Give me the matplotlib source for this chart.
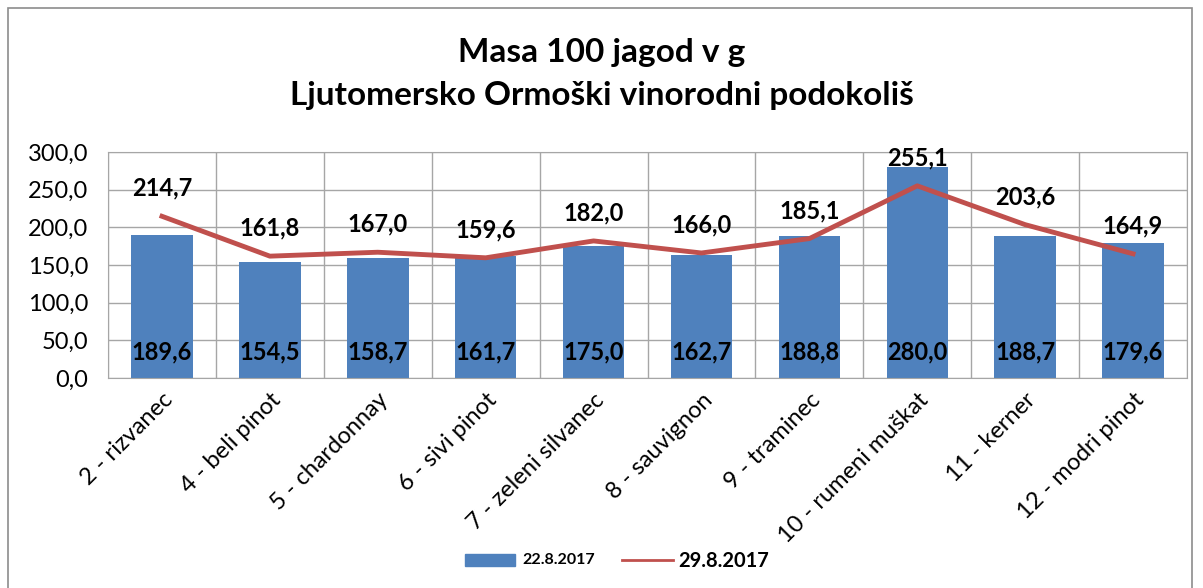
import numpy as np
import matplotlib.pyplot as plt
from matplotlib.patches import Rectangle

categories = ["2 - rizvanec", "4 - beli pinot", "5 - chardonnay", "6 - sivi pinot",
              "7 - zeleni silvanec", "8 - sauvignon", "9 - traminec",
              "10 - rumeni muškat", "11 - kerner", "12 - modri pinot"]
bars_22 = [189.6, 154.5, 158.7, 161.7, 175.0, 162.7, 188.8, 280.0, 188.7, 179.6]
line_29 = [214.7, 161.8, 167.0, 159.6, 182.0, 166.0, 185.1, 255.1, 203.6, 164.9]

plt.rcParams['font.family'] = ['Lato', 'DejaVu Sans']

def fmt(v):
    return f"{v:.1f}".replace(".", ",")

fig = plt.figure(figsize=(12.03, 5.88), dpi=100)
ax = fig.add_axes([0.0898, 0.357, 0.8969, 0.3845])

x = np.arange(len(categories))
ax.bar(x, bars_22, width=0.57, color="#4F81BD", zorder=2, label="22.8.2017")
ax.plot(x, line_29, color="#C0504D", lw=3.5, zorder=3, label="29.8.2017")

for xi, v in zip(x, bars_22):
    ax.text(xi, 35, fmt(v), ha="center", va="center", fontsize=17, fontweight="bold", zorder=4)
for xi, v in zip(x, line_29):
    ax.annotate(fmt(v), (xi, v), xytext=(0, 12), textcoords="offset points",
                ha="center", va="bottom", fontsize=17, fontweight="bold", zorder=4)

ax.set_xlim(-0.5, len(categories) - 0.5)
ax.set_ylim(0, 300)
ax.set_yticks(np.arange(0, 301, 50))
ax.set_yticklabels([fmt(v) for v in np.arange(0, 301, 50)], fontsize=17)
ax.set_xticks(x)
ax.set_xticklabels(categories, rotation=45, ha="right", rotation_mode="anchor", fontsize=17)
ax.tick_params(axis="y", length=0, pad=14)
ax.tick_params(axis="x", length=0, pad=8)
ax.set_xticks(np.arange(-0.5, len(categories)), minor=True)
ax.tick_params(axis="x", which="minor", length=0)
ax.grid(True, axis="y", color="#A6A6A6", lw=1, zorder=0)
ax.grid(True, axis="x", which="minor", color="#A6A6A6", lw=1, zorder=0)
for s in ax.spines.values():
    s.set_color("#A6A6A6")

fig.text(0.5, 0.91, "Masa 100 jagod v g", ha="center", va="center", fontsize=24, fontweight="bold")
fig.text(0.5, 0.838, "Ljutomersko Ormoški vinorodni podokoliš", ha="center", va="center",
         fontsize=24, fontweight="bold")

# legend drawn manually to mimic mixed font sizes
fig.patches.append(Rectangle((465 / 1203, 1 - 566 / 588), 50 / 1203, 12 / 588,
                             transform=fig.transFigure, color="#4F81BD"))
fig.text(522 / 1203, 1 - 560 / 588, "22.8.2017", va="center", fontsize=11.5, fontweight="bold")
fig.add_artist(plt.Line2D([622 / 1203, 673 / 1203], [1 - 560 / 588, 1 - 560 / 588],
                          transform=fig.transFigure, color="#C0504D", lw=2))
fig.text(678 / 1203, 1 - 561 / 588, "29.8.2017", va="center", fontsize=14.5, fontweight="bold")

fig.patches.append(Rectangle((8 / 1203, -0.02), 1184 / 1203, 1 - 8 / 588 + 0.02,
                             transform=fig.transFigure, fill=False, edgecolor="#8C8C8C", lw=1.2))

fig.savefig("out.png", dpi=100)
